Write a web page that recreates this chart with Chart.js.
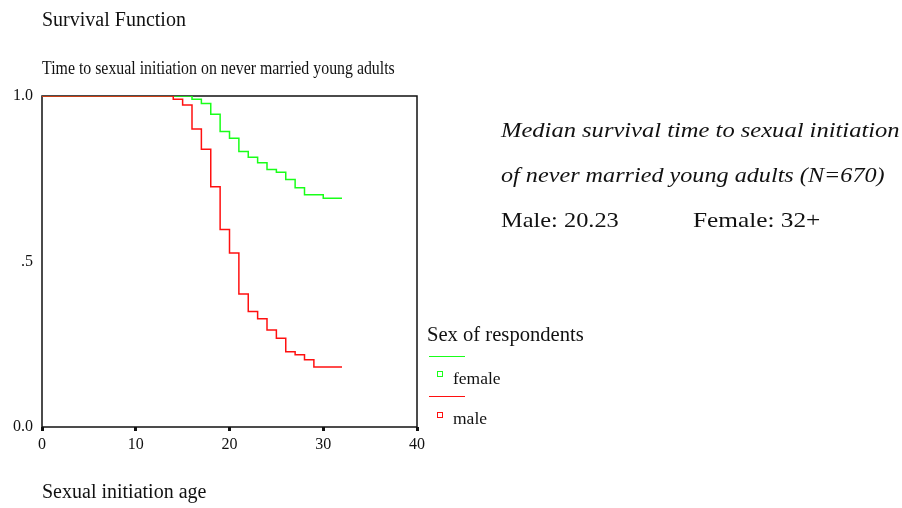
<!DOCTYPE html>
<html>
<head>
<meta charset="utf-8">
<script src="https://cdn.jsdelivr.net/npm/chart.js@4"></script>
<style>
  body { margin: 0; background: #fff; }
  #wrap { position: relative; width: 902px; height: 508px; font-family: "Liberation Serif", "Times New Roman", serif; color: #111; }
  #wrap canvas { position: absolute; left: 0; top: 0; }
  .txt { position: absolute; white-space: nowrap; font-size: 20px; line-height: 24px; transform-origin: 0 0; }
  .small { font-size: 17.5px; line-height: 20px; }
  .note { font-size: 22px; line-height: 26px; }
  .sym { position: absolute; }
</style>
</head>
<body>
<div id="wrap">
  <canvas id="survivalChart"></canvas>
  <div class="txt" style="left:42px; top:7px;">Survival Function</div>
  <div class="txt" style="left:42px; top:56px; font-size:19px; transform:scaleX(0.835);">Time to sexual initiation on never married young adults</div>

  <div class="txt note" style="left:501px; top:117px; font-style:italic; transform:scaleX(1.115);">Median survival time to sexual initiation</div>
  <div class="txt note" style="left:501px; top:162px; font-style:italic; transform:scaleX(1.099);">of never married young adults (N=670)</div>
  <div class="txt note" style="left:501px; top:207px; transform:scaleX(1.108);">Male: 20.23</div>
  <div class="txt note" style="left:693px; top:207px; transform:scaleX(1.15);">Female: 32+</div>

  <div class="txt" style="left:427px; top:322px; transform:scaleX(1.03);">Sex of respondents</div>
  <div class="sym" style="left:429px; top:356px; width:36px; height:0; border-top:1.5px solid #19ff19;"></div>
  <div class="sym" style="left:437px; top:371px; width:4px; height:4px; border:1.5px solid #19ff19;"></div>
  <div class="txt small" style="left:453px; top:368px;">female</div>
  <div class="sym" style="left:429px; top:396px; width:36px; height:0; border-top:1.5px solid #ff1010;"></div>
  <div class="sym" style="left:437px; top:412px; width:4px; height:4px; border:1.5px solid #ff1010;"></div>
  <div class="txt small" style="left:453px; top:408px;">male</div>

  <div class="txt" style="left:42px; top:479px;">Sexual initiation age</div>
</div>
<script>
// Kaplan-Meier estimates (age, survival after the drop)
const maleAges = [0, 14, 15, 16, 17, 18, 19, 20, 21, 22, 23, 24, 25, 26, 27, 28, 29, 32];
const maleSurvival = [1.0, 0.990, 0.973, 0.900, 0.839, 0.726, 0.597, 0.526, 0.402, 0.349, 0.327, 0.293, 0.268, 0.227, 0.218, 0.203, 0.181, 0.181];
const femaleAges = [0, 16, 17, 18, 19, 20, 21, 22, 23, 24, 25, 26, 27, 28, 30, 32];
const femaleSurvival = [1.0, 0.990, 0.977, 0.945, 0.893, 0.872, 0.832, 0.815, 0.798, 0.778, 0.770, 0.748, 0.723, 0.702, 0.691, 0.691];

const xTicks = [0, 10, 20, 30, 40];
const yTicks = [0, 0.5, 1];
const yTickLabels = ['0.0', '.5', '1.0'];

const toPoints = (xs, ys) => xs.map((x, i) => ({ x: x, y: ys[i] }));

// frame round the plot area, drawn under the curves
const frame = {
  id: 'frame',
  beforeDatasetsDraw(chart) {
    const { ctx, chartArea: a } = chart;
    ctx.save();
    ctx.strokeStyle = '#111';
    ctx.lineWidth = 1.5;
    ctx.strokeRect(a.left, a.top, a.right - a.left, a.bottom - a.top);
    ctx.restore();
  }
};

const ctx = document.getElementById('survivalChart').getContext('2d');
const survivalChart = new Chart(ctx, {
  type: 'line',
  data: {
    datasets: [{
      label: 'male',
      data: toPoints(maleAges, maleSurvival),
      borderColor: '#ff1010',
      borderWidth: 1.5,
      stepped: 'before',
      pointRadius: 0,
      fill: false
    }, {
      label: 'female',
      data: toPoints(femaleAges, femaleSurvival),
      borderColor: '#19ff19',
      borderWidth: 1.5,
      stepped: 'before',
      pointRadius: 0,
      fill: false
    }]
  },
  options: {
    responsive: true,
    maintainAspectRatio: false,
    animation: false,
    layout: { padding: { left: 0, top: 96, right: 485, bottom: 0 } },
    plugins: {
      legend: { display: false },
      tooltip: { enabled: false }
    },
    scales: {
      x: {
        type: 'linear',
        min: 0,
        max: 40,
        afterBuildTicks: (scale) => { scale.ticks = xTicks.map(v => ({ value: v })); },
        afterFit: (scale) => { scale.height = 81; },
        grid: { drawOnChartArea: false, tickLength: 4, tickWidth: 3, tickColor: '#111' },
        border: { display: false },
        ticks: { color: '#111', padding: 4, maxRotation: 0, font: { family: 'Liberation Serif', size: 16 } }
      },
      y: {
        min: 0,
        max: 1,
        afterBuildTicks: (scale) => { scale.ticks = yTicks.map(v => ({ value: v })); },
        afterFit: (scale) => { scale.width = 42; },
        grid: { drawOnChartArea: false, drawTicks: false },
        border: { display: false },
        ticks: {
          color: '#111',
          padding: 9,
          font: { family: 'Liberation Serif', size: 16 },
          callback: (v) => yTickLabels[yTicks.indexOf(v)]
        }
      }
    }
  },
  plugins: [frame]
});
</script>
</body>
</html>
